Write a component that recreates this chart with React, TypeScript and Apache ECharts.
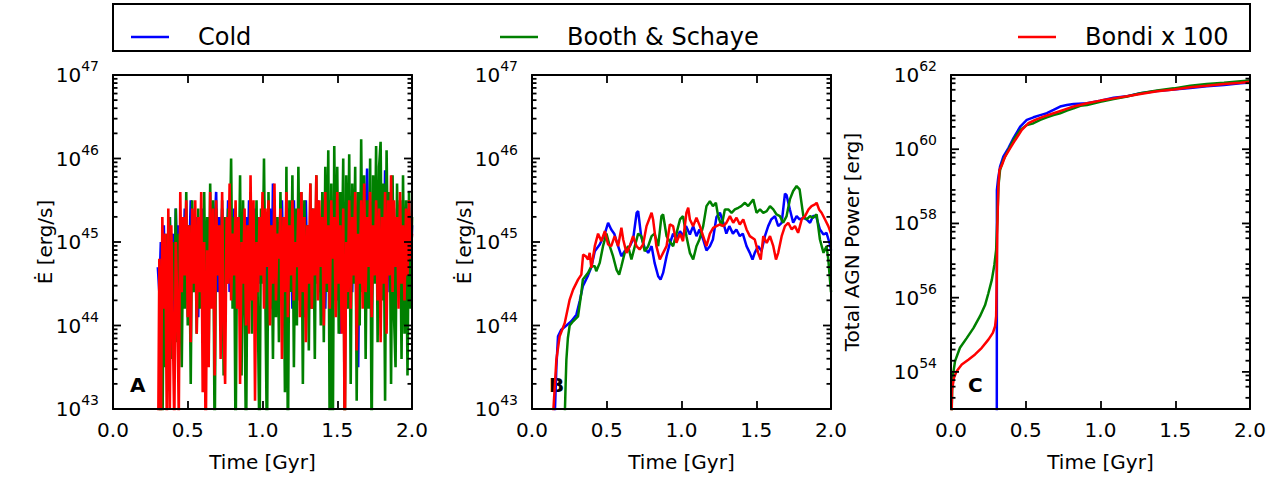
import React, { useEffect, useRef } from "react";
import * as echarts from "echarts";

// ---- series names and colours ----
const NAME_COLD = "Cold";
const NAME_BOOTH = "Booth & Schaye";
const NAME_BONDI = "Bondi x 100";
const COLOR_COLD = "#0000ff";
const COLOR_BOOTH = "#008000";
const COLOR_BONDI = "#ff0000";

// ---- Panel A: instantaneous AGN power, log10(erg/s), sampled every 0.01 Gyr from 0.30 Gyr ----
const A_START = 0.3;
const A_STEP = 0.01;

const coldLogA = [
  44.7, 44.4, 45.0, 43.5, 45.2, 44.3, 45.0, 43.8, 45.3, 44.5,
  45.1, 43.9, 45.4, 44.6, 45.2, 44.2, 45.0, 44.7, 45.4, 44.3,
  45.2, 44.8, 45.5, 44.4, 45.3, 44.6, 45.3, 44.1, 45.2, 44.5,
  45.4, 44.0, 45.1, 44.6, 45.3, 44.3, 45.4, 44.7, 45.2, 45.6,
  44.4, 45.3, 44.6, 45.4, 44.2, 45.1, 44.7, 45.5, 44.4, 45.2,
  44.6, 45.4, 44.0, 45.3, 44.5, 45.1, 44.7, 45.4, 44.2, 45.3,
  44.6, 45.5, 44.3, 45.2, 44.7, 45.4, 44.1, 45.3, 44.5, 45.2,
  44.8, 45.5, 44.4, 45.3, 44.6, 45.4, 44.2, 45.7, 44.5, 45.3,
  44.7, 45.2, 44.3, 45.5, 44.6, 45.1, 44.4, 45.4, 44.7, 45.3,
  44.2, 45.5, 44.6, 45.2, 44.4, 45.4, 44.8, 45.3, 44.1, 45.5,
  44.5, 45.2, 44.7, 45.4, 44.3, 45.3, 44.6, 45.5, 44.4, 45.2,
  44.8, 45.4, 44.2, 45.3, 44.6, 45.5, 44.4, 45.2, 44.7, 45.4,
  44.3, 45.3, 43.9, 45.1, 44.6, 45.4, 44.2, 45.3, 44.7, 45.5,
  44.4, 45.2, 44.8, 45.4, 43.5, 45.3, 44.6, 45.5, 44.4, 45.3,
  45.88, 44.7, 45.4, 44.3, 45.2, 44.6, 45.5, 44.4, 45.3, 44.7,
  45.4, 44.5, 45.86, 44.6, 45.3, 44.4, 45.5, 44.7, 45.2, 44.4,
  45.4, 44.6, 45.3, 44.5, 45.4, 44.2, 45.3, 44.7, 45.5, 44.4,
  45.2,
];

const boothLogA = [
  42.0, 42.0, 44.6, 42.5, 44.9, 43.5, 45.1, 44.0, 45.3, 43.6,
  45.0, 44.3, 45.4, 43.8, 45.1, 44.5, 43.5, 45.3, 44.2, 45.6,
  44.0, 45.2, 43.3, 45.5, 44.4, 45.2, 43.9, 45.4, 44.2, 45.1,
  44.5, 45.6, 44.0, 45.3, 43.7, 45.7, 44.3, 45.5, 42.5, 45.4,
  44.6, 45.2, 44.1, 45.5, 43.4, 45.3, 44.5, 45.4, 44.8, 46.0,
  44.2, 45.3, 42.5, 45.1, 44.4, 45.8, 43.4, 45.5, 44.3, 42.5,
  45.2, 44.6, 45.6, 43.9, 45.3, 44.4, 45.5, 44.0, 42.5, 45.4,
  44.5, 46.0, 44.2, 42.5, 45.6, 44.4, 45.2, 43.6, 45.5, 44.1,
  45.3, 43.8, 45.6, 44.5, 45.2, 43.2, 45.9, 42.5, 45.5, 44.4,
  45.8, 43.5, 45.4, 44.0, 45.9, 44.3, 45.6, 43.3, 45.5, 44.6,
  45.2, 43.7, 45.7, 44.2, 45.4, 43.6, 45.8, 44.5, 45.3, 44.0,
  45.6, 43.8, 45.9, 44.4, 46.1, 42.5, 45.7, 42.5, 46.15, 44.3,
  45.9, 43.9, 45.6, 44.6, 46.0, 42.5, 45.8, 44.2, 46.05, 43.3,
  45.7, 44.5, 45.9, 43.1, 45.6, 44.0, 46.23, 44.4, 45.8, 43.6,
  45.5, 44.2, 46.0, 42.5, 45.8, 44.5, 46.15, 43.8, 45.9, 46.2,
  44.3, 45.7, 43.1, 46.1, 44.6, 45.6, 43.3, 45.8, 44.1, 43.5,
  45.7, 44.4, 45.5, 43.6, 45.8, 43.9, 45.5, 43.4, 45.6, 44.2,
  45.3,
];

const bondiLogA = [
  42.0, 44.8, 42.5, 45.3, 44.2, 45.1, 42.8, 45.4, 43.0, 45.2,
  44.0, 42.8, 45.0, 44.3, 42.9, 45.6, 44.4, 45.3, 44.6, 45.5,
  44.1, 45.2, 43.8, 45.4, 44.5, 45.5, 43.9, 45.3, 44.4, 45.6,
  43.2, 45.0, 42.5, 44.9, 43.5, 45.6, 44.2, 45.4, 43.4, 45.5,
  44.6, 45.2, 43.6, 45.6, 44.0, 43.3, 45.3, 44.5, 45.7, 44.3,
  45.1, 44.6, 45.5, 44.2, 45.3, 43.3, 45.0, 44.5, 45.4, 44.0,
  45.2, 43.9, 45.8, 44.3, 45.5, 43.1, 45.0, 44.4, 45.3, 44.6,
  45.6, 44.2, 45.4, 44.7, 45.5, 44.0, 45.2, 44.5, 45.7, 44.3,
  45.1, 44.8, 45.4, 43.6, 45.3, 44.4, 45.6, 44.1, 45.2, 44.6,
  45.5, 44.3, 45.0, 44.7, 45.4, 44.1, 45.6, 44.4, 45.3, 43.8,
  45.2, 44.5, 45.7, 44.2, 45.4, 44.6, 45.8, 44.3, 45.5, 44.7,
  45.3, 44.0, 45.6, 44.5, 45.2, 44.2, 45.5, 44.8, 45.3, 44.1,
  45.6, 44.5, 45.2, 43.9, 45.4, 42.5, 45.0, 44.4, 45.5, 44.2,
  45.3, 44.6, 45.6, 43.7, 45.1, 44.5, 45.5, 44.2, 45.7, 44.4,
  45.3, 44.7, 45.6, 44.1, 45.2, 44.6, 45.5, 44.3, 45.4, 43.8,
  45.3, 44.5, 45.6, 43.9, 45.5, 44.6, 45.8, 44.4, 45.5, 44.7,
  45.3, 44.2, 45.6, 44.5, 45.2, 44.3, 45.4, 44.6, 45.5, 44.8,
  45.1,
];

// ---- Panel B: smoothed AGN power, [time Gyr, log10(erg/s)] ----
const coldB: [number, number][] = [
  [0.152, 42.9], [0.163, 43.5], [0.174, 43.87], [0.196, 43.95], [0.23, 44.0], [0.263, 44.05],
  [0.297, 44.13], [0.32, 44.3], [0.34, 44.47], [0.375, 44.6], [0.397, 44.7], [0.42, 44.89],
  [0.453, 44.97], [0.487, 45.1], [0.509, 45.23], [0.53, 45.15], [0.55, 45.1], [0.576, 44.95],
  [0.598, 44.83], [0.62, 44.89], [0.654, 44.95], [0.676, 45.03], [0.7, 45.35], [0.71, 45.37],
  [0.73, 45.07], [0.754, 44.93], [0.777, 44.87], [0.8, 44.95], [0.82, 44.75], [0.844, 44.59],
  [0.86, 44.55], [0.877, 44.63], [0.9, 44.83], [0.92, 44.97], [0.944, 45.1], [0.966, 45.03],
  [0.99, 45.13], [1.01, 45.07], [1.03, 45.19], [1.056, 45.09], [1.078, 45.19], [1.1, 45.07],
  [1.12, 45.15], [1.145, 45.03], [1.167, 44.9], [1.19, 44.95], [1.21, 45.03], [1.234, 45.3],
  [1.257, 45.35], [1.28, 45.23], [1.3, 45.1], [1.32, 45.19], [1.344, 45.1], [1.367, 45.15],
  [1.39, 45.07], [1.41, 45.1], [1.435, 44.95], [1.457, 44.87], [1.475, 44.79], [1.49, 44.87],
  [1.513, 44.95], [1.535, 44.89], [1.558, 45.07], [1.58, 45.19], [1.6, 45.27], [1.625, 45.31],
  [1.647, 45.19], [1.67, 45.23], [1.692, 45.58], [1.703, 45.56], [1.725, 45.39], [1.747, 45.23],
  [1.77, 45.31], [1.79, 45.27], [1.815, 45.29], [1.837, 45.27], [1.86, 45.23], [1.88, 45.31],
  [1.9, 45.31], [1.926, 45.15], [1.95, 45.09], [1.97, 45.11], [1.993, 44.97], [2.0, 44.9],
];

const boothB: [number, number][] = [
  [0.219, 42.9], [0.225, 43.3], [0.23, 43.59], [0.24, 43.85], [0.252, 44.0], [0.275, 44.05],
  [0.308, 44.11], [0.33, 44.39], [0.34, 44.55], [0.375, 44.63], [0.397, 44.71], [0.42, 44.71],
  [0.43, 44.65], [0.453, 44.75], [0.475, 44.95], [0.498, 45.1], [0.52, 44.95], [0.542, 44.83],
  [0.565, 44.67], [0.583, 44.61], [0.598, 44.71], [0.62, 44.87], [0.643, 44.95], [0.665, 44.79],
  [0.688, 44.95], [0.71, 45.1], [0.732, 45.07], [0.754, 44.89], [0.777, 44.95], [0.8, 45.07],
  [0.82, 45.1], [0.844, 44.95], [0.866, 45.31], [0.877, 45.33], [0.9, 45.07], [0.92, 45.01],
  [0.944, 44.95], [0.966, 45.1], [0.99, 45.27], [1.01, 45.31], [1.033, 45.07], [1.056, 44.87],
  [1.078, 44.79], [1.1, 44.95], [1.12, 45.03], [1.145, 45.19], [1.167, 45.43], [1.19, 45.49],
  [1.21, 45.43], [1.23, 45.47], [1.245, 45.31], [1.268, 45.19], [1.29, 45.39], [1.313, 45.39],
  [1.335, 45.35], [1.357, 45.39], [1.38, 45.41], [1.4, 45.43], [1.424, 45.47], [1.446, 45.43],
  [1.48, 45.51], [1.502, 45.35], [1.525, 45.39], [1.547, 45.35], [1.57, 45.37], [1.592, 45.43],
  [1.614, 45.39], [1.636, 45.33], [1.658, 45.31], [1.68, 45.23], [1.703, 45.31], [1.725, 45.51],
  [1.747, 45.61], [1.77, 45.67], [1.79, 45.63], [1.815, 45.31], [1.837, 45.27], [1.86, 45.31],
  [1.88, 45.29], [1.904, 45.33], [1.926, 45.03], [1.95, 44.87], [1.97, 44.95], [1.982, 44.79],
  [1.993, 44.55], [2.0, 44.4],
];

const bondiB: [number, number][] = [
  [0.14, 42.9], [0.163, 43.59], [0.185, 43.87], [0.219, 44.03], [0.252, 44.31], [0.275, 44.43],
  [0.308, 44.55], [0.33, 44.61], [0.342, 44.85], [0.36, 44.83], [0.375, 44.79], [0.386, 44.87],
  [0.397, 44.69], [0.42, 44.95], [0.442, 45.1], [0.464, 45.01], [0.487, 45.13], [0.509, 44.97],
  [0.53, 44.95], [0.553, 45.07], [0.576, 44.95], [0.598, 45.17], [0.61, 45.03], [0.632, 44.87],
  [0.654, 44.95], [0.676, 45.07], [0.699, 44.95], [0.72, 44.91], [0.743, 44.97], [0.766, 45.19],
  [0.8, 45.35], [0.81, 45.27], [0.832, 44.95], [0.855, 44.79], [0.877, 44.87], [0.9, 44.95],
  [0.922, 45.21], [0.944, 45.19], [0.966, 44.99], [0.99, 45.1], [1.01, 45.01], [1.033, 45.35],
  [1.045, 45.41], [1.056, 45.27], [1.078, 45.19], [1.1, 45.29], [1.123, 45.19], [1.145, 45.07],
  [1.167, 44.95], [1.19, 45.1], [1.212, 45.17], [1.234, 45.19], [1.257, 45.21], [1.28, 45.19],
  [1.3, 45.23], [1.324, 45.31], [1.346, 45.23], [1.368, 45.29], [1.39, 45.21], [1.413, 45.27],
  [1.435, 45.15], [1.457, 45.07], [1.49, 45.03], [1.513, 44.87], [1.53, 44.79], [1.547, 45.07],
  [1.57, 44.99], [1.592, 45.07], [1.614, 44.95], [1.632, 44.79], [1.647, 44.87], [1.67, 45.07],
  [1.692, 45.19], [1.714, 45.23], [1.737, 45.15], [1.759, 45.19], [1.78, 45.11], [1.804, 45.27],
  [1.826, 45.31], [1.85, 45.39], [1.87, 45.43], [1.893, 45.45], [1.904, 45.47], [1.92, 45.39],
  [1.937, 45.35], [1.96, 45.27], [1.982, 45.19], [2.0, 45.1],
];

// ---- Panel C: cumulative AGN energy, [time Gyr, log10(erg)] ----
const coldC: [number, number][] = [
  [0.306, 50], [0.307, 58.9], [0.315, 59.2], [0.328, 59.53], [0.35, 59.8], [0.384, 60.03],
  [0.418, 60.3], [0.463, 60.61], [0.507, 60.79], [0.552, 60.86], [0.597, 60.92], [0.641, 60.97],
  [0.686, 61.06], [0.73, 61.15], [0.775, 61.19], [0.82, 61.22], [0.91, 61.24], [1.0, 61.31],
  [1.088, 61.39], [1.178, 61.43], [1.267, 61.51], [1.379, 61.57], [1.49, 61.61], [1.6, 61.65],
  [1.71, 61.7], [1.826, 61.73], [1.937, 61.78], [2.0, 61.8],
];

const boothC: [number, number][] = [
  [0, 52], [0.009, 53.79], [0.027, 54.29], [0.06, 54.65], [0.105, 54.91], [0.15, 55.18],
  [0.194, 55.5], [0.228, 55.8], [0.25, 56.12], [0.273, 56.48], [0.29, 56.88], [0.302, 57.29],
  [0.31, 58.09], [0.317, 58.99], [0.328, 59.44], [0.35, 59.71], [0.384, 59.98], [0.418, 60.25],
  [0.463, 60.52], [0.507, 60.65], [0.552, 60.7], [0.597, 60.79], [0.641, 60.86], [0.686, 60.92],
  [0.73, 60.97], [0.775, 61.04], [0.82, 61.1], [0.865, 61.17], [0.91, 61.19], [0.999, 61.28],
  [1.088, 61.35], [1.178, 61.42], [1.267, 61.51], [1.379, 61.58], [1.49, 61.64], [1.6, 61.71],
  [1.71, 61.76], [1.826, 61.79], [1.937, 61.83], [2.0, 61.85],
];

const bondiC: [number, number][] = [
  [0, 52], [0.007, 53.52], [0.02, 53.84], [0.038, 54.02], [0.072, 54.2], [0.116, 54.33],
  [0.161, 54.47], [0.206, 54.65], [0.25, 54.87], [0.28, 55.05], [0.295, 55.23], [0.302, 55.5],
  [0.306, 56.57], [0.31, 57.91], [0.317, 58.99], [0.324, 59.44], [0.34, 59.57], [0.362, 59.8],
  [0.396, 60.03], [0.43, 60.25], [0.474, 60.52], [0.518, 60.7], [0.563, 60.79], [0.619, 60.88],
  [0.686, 60.97], [0.753, 61.06], [0.82, 61.15], [0.91, 61.24], [0.999, 61.31], [1.088, 61.37],
  [1.178, 61.43], [1.267, 61.49], [1.379, 61.56], [1.49, 61.61], [1.6, 61.67], [1.71, 61.71],
  [1.826, 61.76], [1.937, 61.79], [2.0, 61.82],
];

// ---- axis ranges (decade exponents) and tick labels ----
const timeTicks = [0, 0.5, 1.0, 1.5, 2.0];
const rangeAB: [number, number] = [43, 47];
const labelledExpAB = [43, 44, 45, 46, 47];
const rangeC: [number, number] = [53, 62];
const labelledExpC = [54, 56, 58, 60, 62];
const minorMultAB = [2, 3, 4, 5, 6, 7, 8, 9];
const minorMultC = [2, 4, 6, 8];

const FONT = "DejaVu Sans";
const PLOT_W = 299;
const PLOT_H = 334;
const PLOT_TOP = 75;
const PANEL_LEFT = [113, 532, 951];
const MAJOR_LEN = 8;
const MINOR_LEN = 4.5;
const TICK_W = 1.8;

function sampledToData(logs: number[], start: number, step: number) {
  return logs.map((v, i) => [Number((start + i * step).toFixed(3)), Math.pow(10, v)]);
}
function pairsToData(pairs: [number, number][]) {
  return pairs.map(([t, l]) => [t, Math.pow(10, l)]);
}

// tick exponents for a log axis: major ones at labelled decades, minor ones at m x 10^e
function logTickMarks(range: [number, number], majors: number[], mults: number[]) {
  const marks: { exp: number; len: number }[] = [];
  for (const e of majors) marks.push({ exp: e, len: MAJOR_LEN });
  for (let e = range[0]; e < range[1]; e++) {
    for (const m of mults) marks.push({ exp: e + Math.log10(m), len: MINOR_LEN });
  }
  return marks;
}

const richExp = {
  b: { fontSize: 20, fontFamily: FONT, color: "#000", padding: [6, 0, 6, 0], verticalAlign: "middle" },
  e: { fontSize: 14, fontFamily: FONT, color: "#000", verticalAlign: "top" },
};

function expFormatter(allowed: number[]) {
  return (v: number) => {
    const e = Math.round(Math.log10(v));
    if (allowed.indexOf(e) < 0) return "";
    return `{b|10}{e|${e}}`;
  };
}

function xAxisPair(gridIndex: number) {
  const common = {
    type: "value",
    gridIndex,
    min: timeTicks[0],
    max: timeTicks[timeTicks.length - 1],
    interval: timeTicks[1] - timeTicks[0],
    splitLine: { show: false },
    z: 10,
    axisLine: { show: true, onZero: false, lineStyle: { color: "#000", width: 2 } },
    axisTick: { show: true, inside: true, length: MAJOR_LEN, lineStyle: { color: "#000", width: TICK_W } },
  };
  return [
    {
      ...common,
      position: "bottom",
      name: "Time [Gyr]",
      nameLocation: "middle",
      nameGap: 43,
      nameMoveOverlap: false,
      nameTextStyle: { fontSize: 20, fontFamily: FONT, color: "#000" },
      axisLabel: {
        fontSize: 20,
        fontFamily: FONT,
        color: "#000",
        margin: 11,
        formatter: (v: number) => v.toFixed(1),
      },
    },
    { ...common, position: "top", axisLabel: { show: false } },
  ];
}

function yAxisPair(gridIndex: number, range: [number, number], name: string, nameGap: number, allowed: number[]) {
  const common = {
    type: "log",
    logBase: 10,
    gridIndex,
    min: Math.pow(10, range[0]),
    max: Math.pow(10, range[1]),
    splitLine: { show: false },
    z: 10,
    axisTick: { show: false },
    axisLine: { show: true, onZero: false, lineStyle: { color: "#000", width: 2 } },
  };
  return [
    {
      ...common,
      position: "left",
      name,
      nameLocation: "middle",
      nameGap,
      nameMoveOverlap: false,
      nameRotate: 90,
      nameTextStyle: { fontSize: 20, fontFamily: FONT, color: "#000" },
      axisLabel: { margin: 14, formatter: expFormatter(allowed), rich: richExp },
    },
    { ...common, position: "right", axisLabel: { show: false } },
  ];
}

function lineSeries(name: string, color: string, data: number[][], xIdx: number, yIdx: number, width: number) {
  return {
    type: "line",
    name,
    color,
    data,
    xAxisIndex: xIdx,
    yAxisIndex: yIdx,
    showSymbol: false,
    symbol: "none",
    clip: true,
    z: 2,
    lineStyle: { color, width },
  };
}

function legendFor(name: string, left: number) {
  return {
    data: [name],
    left,
    top: 25,
    padding: 0,
    icon: "rect",
    itemWidth: 38,
    itemHeight: 2.5,
    itemGap: 0,
    selectedMode: false,
    textStyle: { fontSize: 24, fontFamily: FONT, color: "#000", padding: [0, 0, 0, 24] },
  };
}

// Frame decorations: inward y tick marks on both sides of each panel,
// the legend frame and the panel letters.
function buildDecorations() {
  const els: any[] = [
    {
      type: "rect",
      z: 100,
      shape: { x: 113, y: 4, width: 1137, height: 47 },
      style: { fill: "none", stroke: "#000", lineWidth: 2 },
    },
  ];
  const panels = [
    { range: rangeAB, marks: logTickMarks(rangeAB, labelledExpAB, minorMultAB), letter: "A" },
    { range: rangeAB, marks: logTickMarks(rangeAB, labelledExpAB, minorMultAB), letter: "B" },
    { range: rangeC, marks: logTickMarks(rangeC, labelledExpC, minorMultC), letter: "C" },
  ];
  panels.forEach((p, i) => {
    const left = PANEL_LEFT[i];
    const right = left + PLOT_W;
    const bottom = PLOT_TOP + PLOT_H;
    const span = p.range[1] - p.range[0];
    for (const mk of p.marks) {
      const y = bottom - ((mk.exp - p.range[0]) / span) * PLOT_H;
      els.push({
        type: "polyline",
        z: 100,
        shape: { points: [[left, y], [left + mk.len, y]] },
        style: { stroke: "#000", lineWidth: TICK_W, fill: null },
      });
      els.push({
        type: "polyline",
        z: 100,
        shape: { points: [[right, y], [right - mk.len, y]] },
        style: { stroke: "#000", lineWidth: TICK_W, fill: null },
      });
    }
    els.push({
      type: "text",
      z: 1,
      left: left + 17,
      top: 375,
      style: { text: p.letter, font: `bold 20px "${FONT}"`, fill: "#000" },
    });
  });
  return els;
}

export default function App() {
  const ref = useRef<HTMLDivElement>(null);

  useEffect(() => {
    document.body.style.margin = "0";
    if (!ref.current) return;
    const chart = echarts.init(ref.current, undefined, { renderer: "svg" });

    const option = {
      animation: false,
      backgroundColor: "#fff",
      textStyle: { fontFamily: FONT },
      grid: PANEL_LEFT.map((left) => ({ left, top: PLOT_TOP, width: PLOT_W, height: PLOT_H })),
      xAxis: [...xAxisPair(0), ...xAxisPair(1), ...xAxisPair(2)],
      yAxis: [
        ...yAxisPair(0, rangeAB, "Ė [erg/s]", 58, labelledExpAB),
        ...yAxisPair(1, rangeAB, "Ė [erg/s]", 58, labelledExpAB),
        ...yAxisPair(2, rangeC, "Total AGN Power [erg]", 89, labelledExpC),
      ],
      legend: [
        legendFor(NAME_COLD, 131),
        legendFor(NAME_BOOTH, 500),
        legendFor(NAME_BONDI, 1018),
      ],
      graphic: buildDecorations(),
      series: [
        lineSeries(NAME_COLD, COLOR_COLD, sampledToData(coldLogA, A_START, A_STEP), 0, 0, 2.6),
        lineSeries(NAME_BOOTH, COLOR_BOOTH, sampledToData(boothLogA, A_START, A_STEP), 0, 0, 2.6),
        lineSeries(NAME_BONDI, COLOR_BONDI, sampledToData(bondiLogA, A_START, A_STEP), 0, 0, 2.6),
        lineSeries(NAME_COLD, COLOR_COLD, pairsToData(coldB), 2, 2, 2.5),
        lineSeries(NAME_BOOTH, COLOR_BOOTH, pairsToData(boothB), 2, 2, 2.5),
        lineSeries(NAME_BONDI, COLOR_BONDI, pairsToData(bondiB), 2, 2, 2.5),
        lineSeries(NAME_COLD, COLOR_COLD, pairsToData(coldC), 4, 4, 2.5),
        lineSeries(NAME_BOOTH, COLOR_BOOTH, pairsToData(boothC), 4, 4, 2.5),
        lineSeries(NAME_BONDI, COLOR_BONDI, pairsToData(bondiC), 4, 4, 2.5),
      ],
    };

    chart.setOption(option as any);
    return () => chart.dispose();
  }, []);

  return <div ref={ref} style={{ width: 1283, height: 483 }} />;
}
